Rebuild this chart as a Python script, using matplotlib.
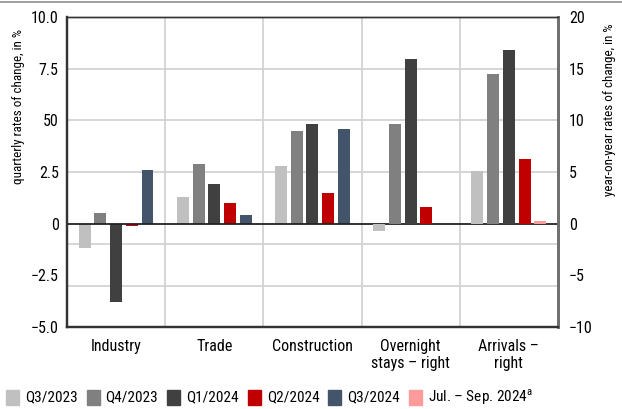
import matplotlib
matplotlib.use("Agg")
import matplotlib.pyplot as plt
from matplotlib.patches import Rectangle
from matplotlib.lines import Line2D
from matplotlib import font_manager

# categories: first three on the left axis, the last two on the right axis
categories = ["Industry", "Trade", "Construction",
              "Overnight\nstays \u2013 right", "Arrivals \u2013\nright"]
left_count = 3

series_names = ["Q3/2023", "Q4/2023", "Q1/2024", "Q2/2024", "Q3/2024",
                "Jul. \u2013 Sep. 2024$^{\\mathrm{a}}$"]
q3_2023 = [-1.2, 1.3, 2.8, -0.7, 5.1]
q4_2023 = [0.5, 2.9, 4.5, 9.6, 14.5]
q1_2024 = [-3.8, 1.9, 4.8, 15.9, 16.8]
q2_2024 = [-0.1, 1.0, 1.5, 1.6, 6.3]
q3_2024 = [2.6, 0.4, 4.6, None, None]
jul_sep_2024 = [None, None, None, None, 0.3]

left_ticks = [-5.0, -2.5, 0, 2.5, 5.0, 7.5, 10.0]
left_labels = ["\u22125.0", "\u22122.5", "0", "2.5", "50", "7.5", "10.0"]
right_ticks = [-10, -5, 0, 5, 10, 15, 20]
right_labels = ["\u221210", "\u22125", "0", "5", "10", "15", "20"]

colors = ["#c0c0c0", "#808080", "#404040", "#c00000", "#44546a", "#ff9b9b"]
# slot within the group for each series (Jul.-Sep. takes the free fifth slot)
slots = [0, 1, 2, 3, 4, 4]

names = {f.name for f in font_manager.fontManager.ttflist}
font = "DejaVu Sans"
for cand in ["Liberation Sans Narrow", "Roboto Condensed", "Arial Narrow",
             "Open Sans Condensed", "Liberation Sans"]:
    if cand in names:
        font = cand
        break
plt.rcParams["font.family"] = [font, "DejaVu Sans"]
plt.rcParams["mathtext.fontset"] = "custom"
plt.rcParams["mathtext.rm"] = font

W, H = 622, 409
fig = plt.figure(figsize=(6.22, 4.09), dpi=100)
ax = fig.add_axes([0.1077, 0.2005, 0.7893, 0.758])
ax2 = ax.twinx()

step = 0.16
width = 0.122
all_series = [q3_2023, q4_2023, q1_2024, q2_2024, q3_2024, jul_sep_2024]
for values, color, slot in zip(all_series, colors, slots):
    for i, v in enumerate(values):
        if v is None:
            continue
        target = ax if i < left_count else ax2
        target.bar(i + (slot - 2) * step, v, width=width, color=color,
                   zorder=3)

ax.set_xlim(-0.5, len(categories) - 0.5)
ax.set_ylim(-5, 10)
ax2.set_ylim(-10, 20)

# grid lines
for y in [2.5, 5.0, 7.5, -1.0, -3.0]:
    ax.axhline(y, color="#d0d0d0", lw=1.2, zorder=1)
for x in [0.5, 1.5, 2.5, 3.5]:
    ax.axvline(x, color="#d0d0d0", lw=1.2, zorder=1)
ax.axhline(0, color="#222222", lw=1.3, zorder=4)

ax.set_xticks(range(len(categories)))
ax.set_xticklabels(categories, linespacing=1.15)
ax.set_yticks(left_ticks)
ax.set_yticklabels(left_labels)
ax2.set_yticks(right_ticks)
ax2.set_yticklabels(right_labels)
ax.tick_params(axis="both", length=0, labelsize=11.5, pad=6)
ax.tick_params(axis="x", pad=9)
ax2.tick_params(axis="y", length=0, labelsize=11.5, pad=8)

for a in (ax, ax2):
    a.spines["left"].set_color("#333333")
    a.spines["left"].set_linewidth(1.6)
    a.spines["bottom"].set_color("#333333")
    a.spines["bottom"].set_linewidth(1.6)
    a.spines["top"].set_color("#333333")
    a.spines["top"].set_linewidth(1.0)
    a.spines["right"].set_color("#707070")
    a.spines["right"].set_linewidth(2.0)

# axis titles sit near the top of each side
fig.text(19 / W, 1 - 106 / H, "quarterly rates of change, in %", fontsize=9.4,
         rotation=90, ha="center", va="center")
fig.text(610 / W, 1 - 110 / H, "year-on-year rates of change, in %",
         fontsize=9.4, rotation=90, ha="center", va="center")

# legend row drawn at fixed pixel spots
for k, (c, n) in enumerate(zip(colors, series_names)):
    x0 = 6 + 80.6 * k
    fig.add_artist(Rectangle((x0 / W, 1 - 405 / H), 13 / W, 15 / H,
                             color=c, transform=fig.transFigure))
    fig.text((x0 + 19) / W, 1 - 397.5 / H, n, fontsize=11, va="center",
             ha="left")

# thin page line at the top
fig.add_artist(Line2D([0, 1], [0.996, 0.996], color="#909090", lw=1.2,
                      transform=fig.transFigure))

fig.savefig("out.png", dpi=100)
